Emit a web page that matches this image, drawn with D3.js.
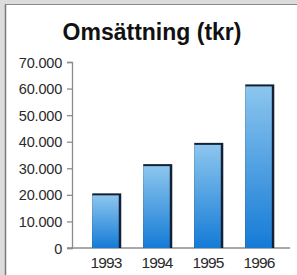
<!DOCTYPE html>
<meta charset="utf-8">
<title>Omsättning</title>
<style>
body { margin: 0; background: #fff; }
text { font-family: "Liberation Sans", Arial, sans-serif; }
</style>
<script src="https://d3js.org/d3.v7.min.js"></script>
<div id="chart"></div>
<script>

// data
var years = ["1993", "1994", "1995", "1996"];
var values = [20000, 31000, 39000, 61000];
var ticks = [0, 10000, 20000, 30000, 40000, 50000, 60000, 70000];

var width = 297, height = 275;
var margin = {top: 62, right: 7, bottom: 27, left: 72};

var svg = d3.select("#chart").append("svg")
  .attr("width", width)
  .attr("height", height);

// frame round the chart
svg.append("rect").attr("width", width).attr("height", height).attr("fill", "#dcdcdc");
svg.append("rect").attr("x", 5).attr("y", 4).attr("width", width - 5).attr("height", height - 4)
  .attr("fill", "#fff");
svg.append("line").attr("x1", 5.5).attr("x2", 5.5).attr("y1", 4).attr("y2", height)
  .attr("stroke", "#7a7a7a").attr("stroke-width", 1.5);
svg.append("line").attr("x1", 5).attr("x2", width).attr("y1", 4.5).attr("y2", 4.5)
  .attr("stroke", "#8a8a8a").attr("stroke-width", 1);

// gradient for bars
var defs = svg.append("defs");
var grad = defs.append("linearGradient").attr("id", "barGrad")
  .attr("x1", 0).attr("y1", 0).attr("x2", 0).attr("y2", 1);
grad.append("stop").attr("offset", "0%").attr("stop-color", "#8cc6ee");
grad.append("stop").attr("offset", "100%").attr("stop-color", "#157bd6");

var y = d3.scaleLinear()
  .domain([0, 70000])
  .range([248, margin.top]);

var x = d3.scaleBand()
  .domain(years)
  .range([82, 283])
  .paddingInner(0.46)
  .paddingOuter(0.2);

// title
svg.append("text")
  .attr("x", 152)
  .attr("y", 40)
  .attr("text-anchor", "middle")
  .style("font-size", "23px")
  .style("font-weight", "bold")
  .style("fill", "#111")
  .text("Omsättning (tkr)");

// y axis
var fmt = function(d) { return d === 0 ? "0" : d3.format(",")(d).replace(",", "."); };
var yAxis = svg.append("g")
  .attr("transform", "translate(" + margin.left + ",0)")
  .call(d3.axisLeft(y).tickValues(ticks).tickFormat(fmt).tickSize(5).tickSizeOuter(5).tickPadding(5));
yAxis.select(".domain").attr("stroke", "#8c8c8c").attr("stroke-width", 1.3);
yAxis.selectAll(".tick line").attr("stroke", "#8c8c8c").attr("stroke-width", 1.3);
yAxis.selectAll(".tick text")
  .style("font-size", "14.5px")
  .style("letter-spacing", "-0.2px")
  .style("fill", "#2a2a2a")
  .attr("dy", "0.35em");

// baseline
svg.append("line")
  .attr("x1", 67).attr("x2", 290)
  .attr("y1", y(0)).attr("y2", y(0))
  .attr("stroke", "#8c8c8c").attr("stroke-width", 1.3);

// bars: dark shadow first, then gradient face
var bars = svg.selectAll(".bar").data(values).enter().append("g").attr("class", "bar");
bars.append("rect")
  .attr("x", function(d, i) { return x(years[i]); })
  .attr("y", function(d) { return y(d) - 1.5; })
  .attr("width", x.bandwidth() + 1.5)
  .attr("height", function(d) { return y(0) - y(d) + 1.5; })
  .attr("fill", "#142033");
bars.append("rect")
  .attr("x", function(d, i) { return x(years[i]); })
  .attr("y", function(d) { return y(d) + 0.5; })
  .attr("width", x.bandwidth() - 1)
  .attr("height", function(d) { return y(0) - y(d) - 0.5; })
  .attr("fill", "url(#barGrad)");

// year labels
svg.selectAll(".year").data(years).enter().append("text")
  .attr("class", "year")
  .attr("x", function(d) { return x(d) + x.bandwidth() / 2; })
  .attr("y", 268)
  .attr("text-anchor", "middle")
  .style("font-size", "15.5px")
  .style("letter-spacing", "-0.9px")
  .style("fill", "#2a2a2a")
  .text(function(d) { return d; });

</script>
